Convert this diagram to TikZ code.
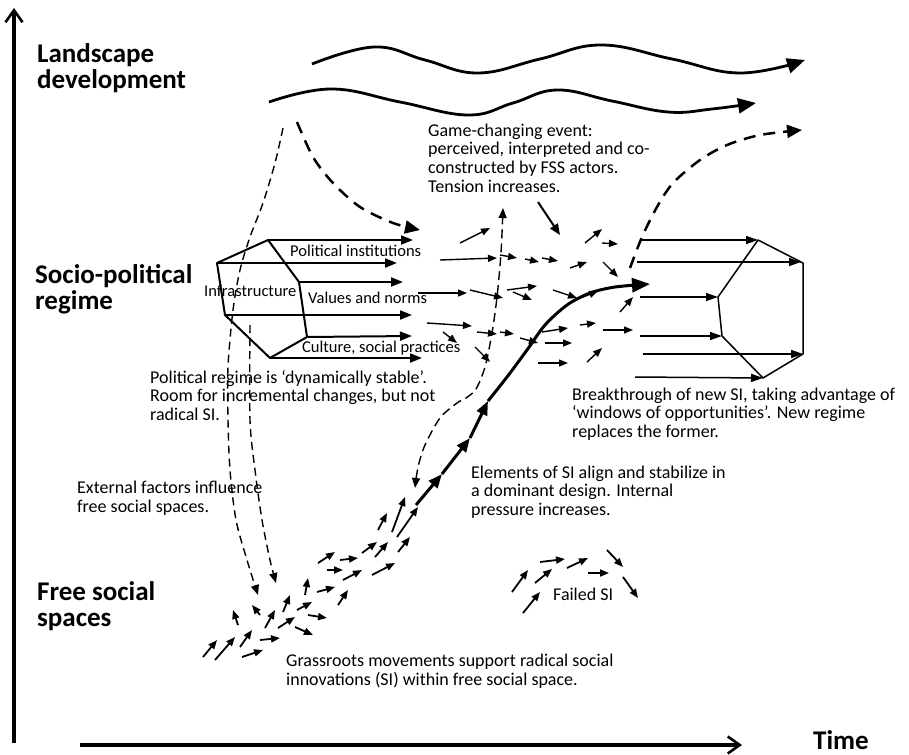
\documentclass[tikz,border=0pt]{standalone}
\usepackage{fontspec}
\setmainfont{Carlito}
\usetikzlibrary{arrows.meta}
\begin{document}
\begin{tikzpicture}[x=1pt,y=-1pt,
  lbl/.style={anchor=base west, inner sep=0pt, align=left, font=\fontsize{27}{26}\selectfont\bfseries},
  txt/.style={anchor=base west, inner sep=0pt, align=left, font=\fontsize{18}{18.5}\selectfont},
  sml/.style={anchor=base west, inner sep=0pt, font=\fontsize{16.5}{18}\selectfont},
  axisarrow/.style={line width=3.2pt, -{Straight Barb[length=12pt,width=17pt,line width=2.6pt]}},
  wave/.style={line width=2.8pt, -{Triangle[length=18pt,width=15pt]}},
  bigdash/.style={line width=2.5pt, dash pattern=on 12pt off 8pt, -{Triangle[length=15pt,width=13pt]}},
  thindash/.style={line width=1.4pt, dash pattern=on 8pt off 5pt, -{Triangle[length=10pt,width=8pt]}},
  cdash/.style={line width=1.4pt, dash pattern=on 9pt off 5pt, {Triangle[length=10pt,width=8pt]}-{Triangle[length=10pt,width=8pt]}},
  rowL/.style={line width=2pt, -{Triangle[length=12pt,width=9pt]}},
  rowR/.style={line width=1.5pt, -{Triangle[length=12pt,width=8pt]}},
  sarr/.style={line width=1.4pt, -{Triangle[length=9pt,width=7pt]}},
  farr/.style={line width=1.8pt, -{Triangle[length=9pt,width=7pt]}},
  tens/.style={line width=2pt, -{Triangle[length=11pt,width=9pt]}},
  scurve/.style={line width=3pt, -{Triangle[length=14pt,width=11pt]}},
  scurveend/.style={line width=3pt, -{Triangle[length=18pt,width=14pt]}},
  polyL/.style={line width=2pt, line join=round},
  polyR/.style={line width=1.5pt, line join=round},
]
\useasboundingbox (0,0) rectangle (909,754);

% axes
\coordinate (vbot) at (14,743);
\coordinate (vtop) at (14,8);
\coordinate (hleft) at (80,745);
\coordinate (hright) at (742,745);
\draw[axisarrow] (vbot) -- (vtop);
\draw[axisarrow, line width=3.6pt] (hleft) -- (hright);

% level labels (base = baseline of last line)
\node[lbl] (land) at (37,89) {Landscape\\development};
\node[lbl] (socio) at (35,309) {Socio-political\\regime};
\node[lbl] (free) at (37,626) {Free social\\spaces};
\node[lbl, text depth=0pt] (time) at (813,749) {Time};

% landscape waves
\draw[wave] plot[smooth, tension=0.7] coordinates {(312,64) (374,47) (425,60) (478,73) (540,59) (601,45) (672,59) (740,73) (805,60)};
\draw[wave] plot[smooth, tension=0.7] coordinates {(269,102) (331,89) (400,102) (468,115) (513,103) (557,90) (612,101) (668,112) (712,109) (756,103)};

% old regime polygon
\coordinate (L1) at (217,263);
\coordinate (L2) at (268,240);
\coordinate (L3) at (299,282);
\coordinate (L4) at (307,337);
\coordinate (L5) at (270,358);
\coordinate (L6) at (225,315);
\draw[polyL] (L1) -- (L2) -- (L3) -- (L4) -- (L5) -- (L6) -- cycle;
\draw[rowL] (L2) -- (413,240);
\draw[rowL] (L1) -- (397,263);
\draw[rowL] (L3) -- (403,282);
\draw[rowL] (L6) -- (412,315);
\draw[rowL] (L4) -- (412,336);
\draw[rowL] (L5) -- (422,358);

\node[sml] (pi) at (290,256) {Political institutions};
\node[sml] (infra) at (204,296) {Infrastructure};
\node[sml] (vn) at (308,303) {Values and norms};
\node[sml] (csp) at (302,352) {Culture, social practices};

% new regime polygon
\coordinate (R1) at (758,240);
\coordinate (R2) at (803,263);
\coordinate (R3) at (803,354);
\coordinate (R4) at (763,378);
\coordinate (R5) at (722,336);
\coordinate (R6) at (718,297);
\draw[polyR] (R1) -- (R2) -- (R3) -- (R4) -- (R5) -- (R6) -- cycle;
\draw[rowR] (640,240) -- (R1);
\draw[rowR] (637,262) -- (801,262);
\draw[rowR] (640,297) -- (R6);
\draw[rowR] (640,336) -- (R5);
\draw[rowR] (643,354) -- (R3);
\draw[rowR] (635,377) -- (R4);

% dashed influences
\draw[bigdash] plot[smooth] coordinates {(297,122) (313,157) (333,183) (360,207) (393,223) (420,230)};
\draw[bigdash] plot[smooth] coordinates {(630,268) (642,237) (657,207) (673,183) (700,160) (727,145) (760,135) (802,130)};
\draw[thindash] plot[smooth] coordinates {(283,128) (275,163) (263,203) (250,237) (240,270) (233,310) (228,367) (228,420) (230,470) (236,520) (247,560) (258,595)};
\draw[thindash] plot[smooth] coordinates {(250,325) (250,420) (255,470) (262,520) (270,560) (276,583)};
\draw[cdash] plot[smooth] coordinates {(415,488) (418,467) (425,445) (440,418) (457,403) (466,398) (476,389) (485,367) (492,333) (497,297) (501,253) (503,208)};

% tension arrow
\draw[tens] (538,202) -- (560,235);

% S-curve of SI
\draw[scurve] (416,505) -- (442,474);
\draw[scurve] (442,474) -- (470,438);
\draw[scurve] (470,438) -- (488,401);
\draw[scurveend] plot[smooth] coordinates {(488,401) (507,377) (527,350) (545,325) (567,305) (590,293) (615,287) (650,284)};

% small arrows between regimes
\foreach \x/\y/\u/\v in {460/243/490/228, 440/260/497/258, 500/255/517/258, 525/259/539/262,
  542/258/558/261, 570/268/587/262, 585/243/602/229, 602/243/618/244, 603/262/618/277,
  418/293/467/293, 470/290/503/298, 507/290/537/286, 513/292/532/300, 553/290/577/298,
  583/297/598/291, 620/312/633/297, 427/323/472/326, 443/332/457/343, 477/332/497/334,
  500/332/514/334, 520/338/538/343, 475/347/490/362, 542/332/568/328, 580/325/596/323,
  603/330/633/330, 545/343/572/343, 538/363/568/363, 587/362/602/348}
  \draw[sarr] (\x,\y) -- (\u,\v);

% grassroots arrows
\foreach \x/\y/\u/\v in {203/657/217/640, 215/660/235/637, 240/647/252/630, 242/657/263/650,
  260/640/280/638, 238/625/233/610, 260/615/252/605, 265/628/275/610, 278/628/295/617,
  283/612/290/595, 295/627/313/635, 297/610/312/602, 305/595/308/578, 308/615/327/618,
  317/592/335/587, 338/605/348/590, 327/570/343/570, 343/580/362/570, 318/563/335/552,
  340/560/358/558, 362/553/377/542, 372/575/395/563, 375/557/388/542, 378/530/387/513,
  392/532/405/497, 397/537/418/507, 398/552/410/537}
  \draw[farr] (\x,\y) -- (\u,\v);

% failed SI arrows
\foreach \x/\y/\u/\v in {512/592/528/570, 535/583/552/569, 523/613/540/592, 540/562/565/559,
  567/568/588/558, 588/573/609/573, 607/550/623/567, 623/577/638/598}
  \draw[farr] (\x,\y) -- (\u,\v);

% explanatory texts (base = baseline of last line)
\node[txt] (game) at (428,192) {Game-changing event:\\perceived, interpreted and co-\\constructed by FSS actors.\\Tension increases.};
\node[txt] (polreg) at (150,420) {Political regime is ‘dynamically stable’.\\Room for incremental changes, but not\\radical SI.};
\node[txt] (ext) at (77,512) {External factors influence\\free social spaces.};
\node[txt] (brk) at (572,437) {Breakthrough of new SI, taking advantage of\\‘windows of opportunities’. New regime\\replaces the former.};
\node[txt] (elem) at (471,515) {Elements of SI align and stabilize in\\a dominant design. Internal\\pressure increases.};
\node[txt] (grass) at (286,685) {Grassroots movements support radical social\\innovations (SI) within free social space.};
\node[txt] (failed) at (553,600) {Failed SI};
\end{tikzpicture}
\end{document}
